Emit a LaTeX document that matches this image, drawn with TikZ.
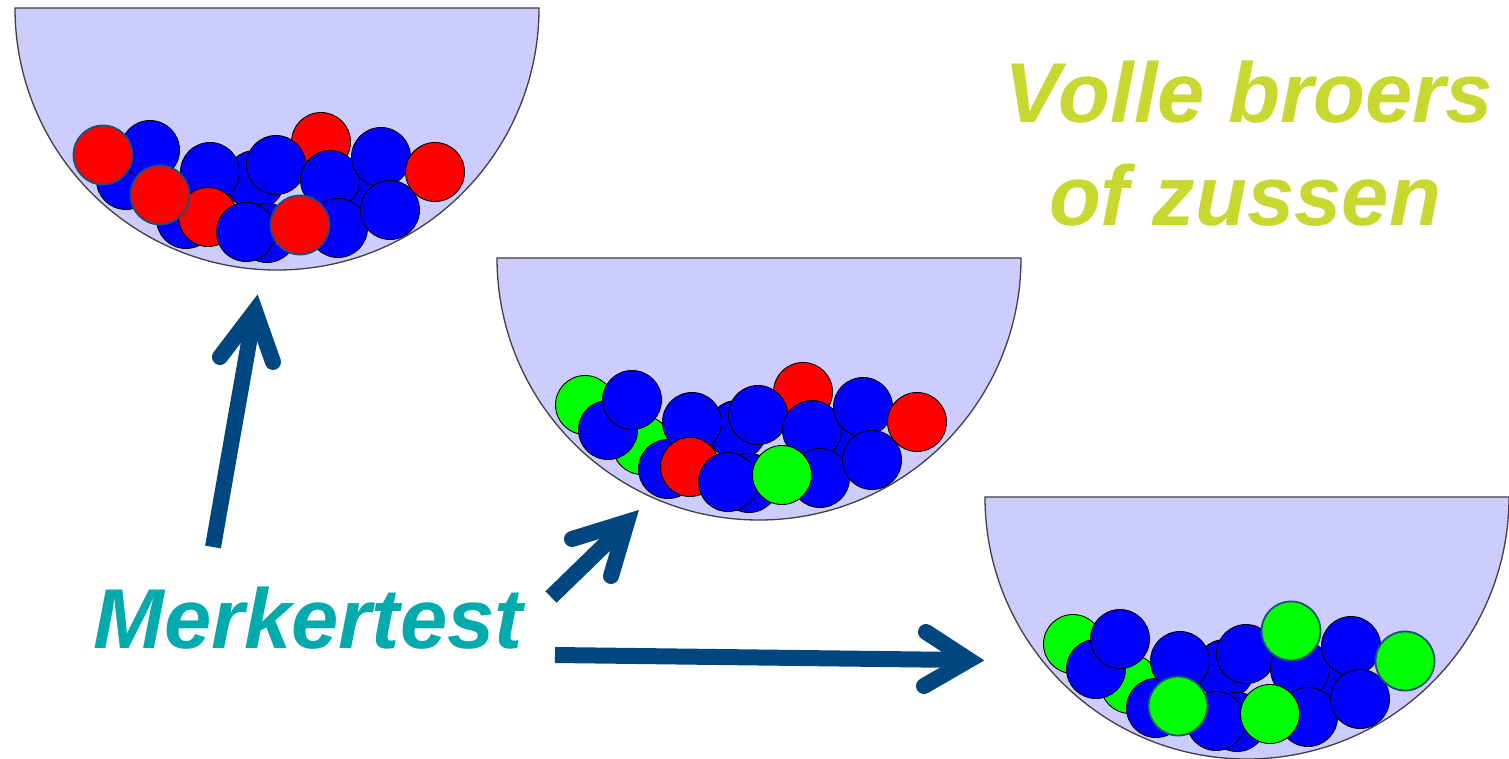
\documentclass[tikz,border=0pt]{standalone}
\usepackage{fontspec}
\setmainfont{Liberation Sans}
\definecolor{bowlfill}{RGB}{204,204,255}
\definecolor{bowlline}{RGB}{64,64,64}
\definecolor{arrowblue}{RGB}{0,71,130}
\definecolor{merkcol}{RGB}{0,170,173}
\definecolor{vollecol}{RGB}{200,216,48}
\definecolor{frontline}{RGB}{31,78,121}
\definecolor{ballred}{RGB}{255,0,0}
\definecolor{ballblue}{RGB}{0,0,255}
\definecolor{ballgreen}{RGB}{0,255,0}
\tikzset{
  bowl/.style={fill=bowlfill, draw=bowlline, line width=1.3pt},
  ball/.style={draw=black, line width=0.9pt},
  frontball/.style={draw=frontline, line width=1.8pt},
  shaft/.style={draw=arrowblue, line width=16pt, line cap=butt},
  chevron/.style={draw=arrowblue, line width=16pt, line cap=round, line join=miter},
  bigtext/.style={font=\fontsize{85}{103}\selectfont\bfseries\itshape, inner sep=0pt},
}
\def\posa{-174,147}
\def\posb{-117,187}
\def\posc{-151,172}
\def\posd{-127,142}
\def\pose{-91,211}
\def\posf{-67,164}
\def\posg{-22,172}
\def\posh{-10,225}
\def\posi{44,134}
\def\posj{-1,157}
\def\posk{53,172}
\def\posl{81,185}
\def\posm{104,149}
\def\posn{158,164}
\def\poso{113,202}
\def\posp{61,220}
\def\posq{-69,209}
\def\posr{-31,224}
\def\poss{23,217}
\newcommand{\myball}[3]{\draw[#3, fill=#2] (#1) circle[radius=29.5];}
\begin{document}
\begin{tikzpicture}[x=1pt,y=-1pt]
\useasboundingbox (0,0) rectangle (1509,759);
\fill[white] (0,0) rectangle (1509,759);

% bowl 1
\begin{scope}[shift={(277,8)}]
  \draw[bowl] (-262,0) arc[start angle=180, end angle=0, radius=262] -- cycle;
  \myball{\posg}{ballblue}{ball}
  \myball{\posh}{ballblue}{ball}
  \myball{\posl}{ballblue}{ball}
  \myball{\posi}{ballred}{ball}
  \myball{\posc}{ballblue}{ball}
  \myball{\posd}{ballblue}{ball}
  \myball{\pose}{ballblue}{ball}
  \myball{\posf}{ballblue}{ball}
  \myball{\posj}{ballblue}{ball}
  \myball{\posk}{ballblue}{ball}
  \myball{\posm}{ballblue}{ball}
  \myball{\posn}{ballred}{ball}
  \myball{\posp}{ballblue}{ball}
  \myball{\poso}{ballblue}{ball}
  \myball{\posq}{ballred}{ball}
  \myball{\posr}{ballblue}{ball}
  \myball{\posa}{ballred}{frontball}
  \myball{\posb}{ballred}{frontball}
  \myball{\poss}{ballred}{frontball}
\end{scope}

% bowl 2
\begin{scope}[shift={(759,258)}]
  \draw[bowl] (-262,0) arc[start angle=180, end angle=0, radius=262] -- cycle;
  \myball{\posa}{ballgreen}{ball}
  \myball{\posg}{ballblue}{ball}
  \myball{\posh}{ballblue}{ball}
  \myball{\posl}{ballblue}{ball}
  \myball{\posi}{ballred}{ball}
  \myball{\posb}{ballgreen}{ball}
  \myball{\posc}{ballblue}{ball}
  \myball{\posd}{ballblue}{ball}
  \myball{\pose}{ballblue}{ball}
  \myball{\posf}{ballblue}{ball}
  \myball{\posj}{ballblue}{ball}
  \myball{\posk}{ballblue}{ball}
  \myball{\posm}{ballblue}{ball}
  \myball{\posn}{ballred}{ball}
  \myball{\posp}{ballblue}{ball}
  \myball{\poso}{ballblue}{ball}
  \myball{\posq}{ballred}{ball}
  \myball{\posr}{ballblue}{ball}
  \myball{\poss}{ballgreen}{ball}
\end{scope}

% bowl 3
\begin{scope}[shift={(1247,497)}]
  \draw[bowl] (-262,0) arc[start angle=180, end angle=0, radius=262] -- cycle;
  \myball{\posa}{ballgreen}{ball}
  \myball{\posg}{ballblue}{ball}
  \myball{\posh}{ballblue}{ball}
  \myball{\posl}{ballblue}{ball}
  \myball{\posb}{ballgreen}{ball}
  \myball{\posc}{ballblue}{ball}
  \myball{\posd}{ballblue}{ball}
  \myball{\pose}{ballblue}{ball}
  \myball{\posf}{ballblue}{ball}
  \myball{\posj}{ballblue}{ball}
  \myball{\posk}{ballblue}{ball}
  \myball{\posm}{ballblue}{ball}
  \myball{\posp}{ballblue}{ball}
  \myball{\poso}{ballblue}{ball}
  \myball{\posr}{ballblue}{ball}
  \myball{\poss}{ballgreen}{ball}
  \myball{\posq}{ballgreen}{frontball}
  \myball{\posi}{ballgreen}{frontball}
  \myball{\posn}{ballgreen}{frontball}
\end{scope}

% texts
\node[bigtext, text=merkcol, anchor=base west] (merk) at (93,648) {Merkertest};
\node[bigtext, text=vollecol, anchor=base] (volle1) at (1249,123) {Volle broers};
\node[bigtext, text=vollecol, anchor=base] (volle2) at (1245,226) {of zussen};

% arrow 1
\coordinate (a1s) at (213,547);
\coordinate (a1e) at (252,325);
\coordinate (a1l) at (220,357);
\coordinate (a1t) at (255,311);
\coordinate (a1r) at (273,362);
\draw[shaft] (a1s) -- (a1e);
\draw[chevron] (a1l) -- (a1t) -- (a1r);

% arrow 2
\coordinate (a2s) at (551,597);
\coordinate (a2e) at (620,530);
\coordinate (a2l) at (572,539);
\coordinate (a2t) at (627,522);
\coordinate (a2r) at (611,576);
\draw[shaft] (a2s) -- (a2e);
\draw[chevron] (a2l) -- (a2t) -- (a2r);

% arrow 3
\coordinate (a3s) at (555,655);
\coordinate (a3e) at (962,660);
\coordinate (a3l) at (926,632);
\coordinate (a3t) at (969,660);
\coordinate (a3r) at (924,686);
\draw[shaft] (a3s) -- (a3e);
\draw[chevron] (a3l) -- (a3t) -- (a3r);
\end{tikzpicture}
\end{document}
